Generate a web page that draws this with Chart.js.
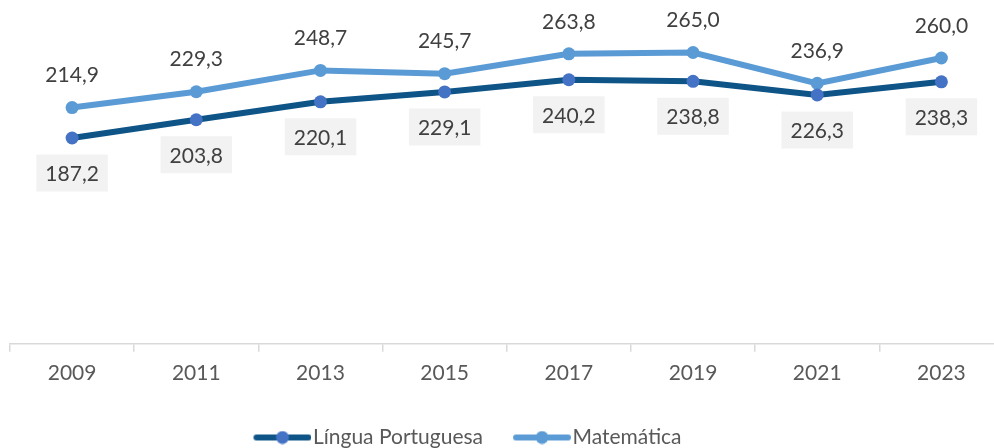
<!DOCTYPE html>
<html lang="pt">
<head>
  <meta charset="UTF-8" />
  <title>Língua Portuguesa e Matemática</title>
  <script src="https://cdn.jsdelivr.net/npm/chart.js"></script>
  <style>
    html, body { margin: 0; padding: 0; background: #fff; overflow: hidden; }
    /* a bit wider than the window: the last category runs past the right edge */
    #wrap { width: 1010px; height: 448px; }
  </style>
</head>
<body>
  <div id="wrap"><canvas id="chart"></canvas></div>

  <script>
    const years = ['2009', '2011', '2013', '2015', '2017', '2019', '2021', '2023'];
    const portugues = [187.2, 203.8, 220.1, 229.1, 240.2, 238.8, 226.3, 238.3];
    const matematica = [214.9, 229.3, 248.7, 245.7, 263.8, 265.0, 236.9, 260.0];

    const FONT = 'Lato, "Noto Sans", sans-serif';

    // legend marker: line with a dot in the middle (left part is blank, acts as spacing)
    function legendIcon(lineColor, dotColor) {
      const c = document.createElement('canvas');
      c.width = 92; c.height = 14;
      const g = c.getContext('2d');
      g.strokeStyle = lineColor;
      g.lineWidth = 6;
      g.lineCap = 'round';
      g.beginPath(); g.moveTo(37, 7); g.lineTo(89, 7); g.stroke();
      g.fillStyle = dotColor;
      g.beginPath(); g.arc(63, 7, 6.5, 0, Math.PI * 2); g.fill();
      return c;
    }

    const valueLabels = {
      id: 'valueLabels',
      afterDatasetsDraw(chart) {
        const ctx = chart.ctx;
        ctx.save();
        ctx.font = '21px ' + FONT;
        ctx.textAlign = 'center';
        ctx.textBaseline = 'middle';
        chart.data.datasets.forEach((ds, i) => {
          const meta = chart.getDatasetMeta(i);
          meta.data.forEach((pt, j) => {
            const txt = ds.data[j].toFixed(1).replace('.', ',');
            if (i === 0) {
              const w = ctx.measureText(txt).width + 18;
              const cy = pt.y + 35;
              ctx.fillStyle = '#f2f2f2';
              ctx.fillRect(pt.x - w / 2, cy - 18.5, w, 37);
              ctx.fillStyle = '#404040';
              ctx.fillText(txt, pt.x, cy + 1);
            } else {
              ctx.fillStyle = '#404040';
              ctx.fillText(txt, pt.x, pt.y - 32);
            }
          });
        });
        ctx.restore();
      }
    };

    // nudge the legend left and down, like the original
    const legendShift = {
      id: 'legendShift',
      beforeDraw(chart) {
        chart.legend.left -= 52;
        chart.legend.right -= 52;
        chart.legend.top += 10;
        chart.legend.bottom += 10;
      }
    };

    new Chart(document.getElementById('chart'), {
      type: 'line',
      data: {
        labels: years,
        datasets: [
          {
            label: 'Língua Portuguesa',
            data: portugues,
            borderColor: '#0e5487',
            backgroundColor: '#4472c4',
            pointBackgroundColor: '#4472c4',
            pointBorderWidth: 0,
            pointRadius: 6.5,
            borderWidth: 6,
            tension: 0
          },
          {
            label: 'Matemática',
            data: matematica,
            borderColor: '#5b9bd5',
            backgroundColor: '#5b9bd5',
            pointBackgroundColor: '#5b9bd5',
            pointBorderWidth: 0,
            pointRadius: 6.5,
            borderWidth: 6,
            tension: 0
          }
        ]
      },
      options: {
        responsive: true,
        maintainAspectRatio: false,
        animation: false,
        layout: { padding: { left: 10, right: 6, top: 14, bottom: 0 } },
        plugins: {
          tooltip: { enabled: false },
          legend: {
            position: 'bottom',
            labels: {
              usePointStyle: true,
              pointStyleWidth: 74,
              padding: 5,
              color: '#595959',
              font: { family: FONT, size: 21 },
              generateLabels(chart) {
                return chart.data.datasets.map((ds, i) => ({
                  text: ds.label,
                  fontColor: '#595959',
                  pointStyle: legendIcon(ds.borderColor, ds.pointBackgroundColor),
                  datasetIndex: i,
                  hidden: false,
                  lineWidth: 0
                }));
              }
            }
          }
        },
        scales: {
          y: { display: false, min: 0, max: 300 },
          x: {
            offset: true,
            afterFit(scale) { scale.height += 17; },
            grid: {
              offset: true,
              drawOnChartArea: false,
              drawTicks: true,
              tickLength: 8,
              color: '#d9d9d9',
              lineWidth: 1.5
            },
            border: { color: '#d9d9d9', width: 1.5 },
            ticks: {
              color: '#595959',
              padding: 9,
              font: { family: FONT, size: 21 }
            }
          }
        }
      },
      plugins: [valueLabels, legendShift]
    });
  </script>
</body>
</html>
